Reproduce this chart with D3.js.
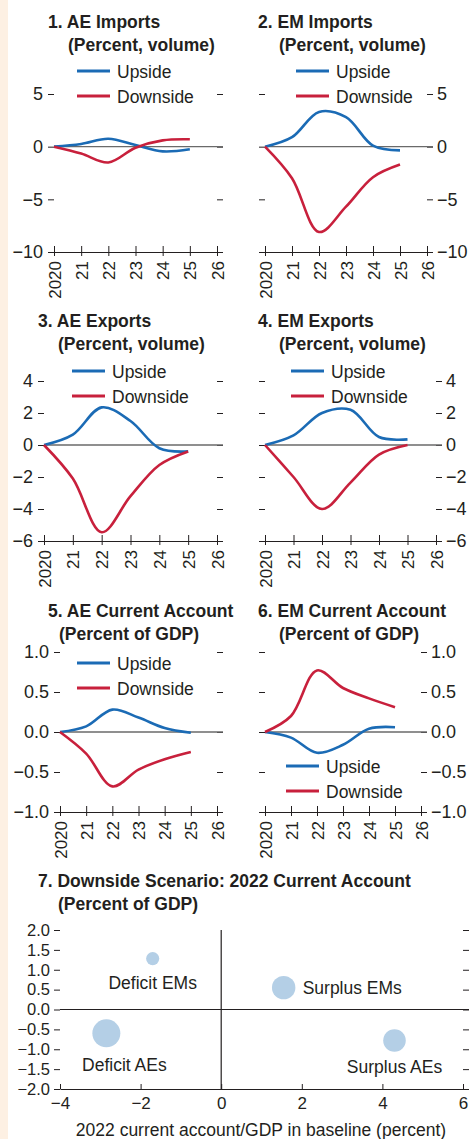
<!DOCTYPE html>
<html>
<head>
<meta charset="utf-8">
<script src="https://cdn.jsdelivr.net/npm/d3@7"></script>
<style>
body { margin: 0; background: #fff; }
svg text { font-family: "Liberation Sans", Arial, sans-serif; fill: #231f20; }
</style>
</head>
<body>
<svg id="chart" width="472" height="1139"></svg>
<script>
// values
const years = [2020, 2021, 2022, 2023, 2024, 2025]
const yearTicks = [2020, 2021, 2022, 2023, 2024, 2025, 2026]
const yearLabels = ["2020", "21", "22", "23", "24", "25", "26"]

const aeImportsUp = [0, 0.25, 0.75, 0.15, -0.45, -0.25]
const aeImportsDown = [0, -0.65, -1.5, -0.1, 0.6, 0.7]
const emImportsUp = [0, 0.9, 3.3, 2.8, 0.1, -0.35]
const emImportsDown = [0, -3.0, -8.1, -5.7, -2.9, -1.7]
const aeExportsUp = [0, 0.65, 2.35, 1.5, -0.2, -0.4]
const aeExportsDown = [0, -2.1, -5.45, -3.2, -1.25, -0.4]
const emExportsUp = [0, 0.6, 2.0, 2.2, 0.5, 0.35]
const emExportsDown = [0, -2.0, -4.0, -2.35, -0.6, 0]
const aeCaUp = [0, 0.07, 0.28, 0.18, 0.05, -0.01]
const aeCaDown = [0, -0.27, -0.68, -0.47, -0.34, -0.25]
const emCaUp = [0, -0.07, -0.26, -0.16, 0.04, 0.06]
const emCaDown = [0, 0.2, 0.77, 0.55, 0.42, 0.31]

const seriesNames = ["Upside", "Downside"]

const scatterGroups = ["Deficit EMs", "Deficit AEs", "Surplus EMs", "Surplus AEs"]
const baselineCa = [-1.7, -2.85, 1.55, 4.3]
const downsideChange = [1.28, -0.6, 0.55, -0.78]
const groupWeight = [0.22, 1.0, 0.7, 0.65]

const blue = "#1b6bb5"
const red = "#c8203c"
const ink = "#231f20"

let svg = d3.select("#chart")

svg.append("rect").attr("width", 472).attr("height", 1139).attr("fill", "#fff")
svg.append("rect").attr("width", 8).attr("height", 1139).attr("fill", "#fdf0e3")

const panels = [
	{ title: "1. AE Imports", sub: "(Percent, volume)", up: aeImportsUp, down: aeImportsDown,
		x0: 54, x1: 217, yDomain: [-10, 5], yRange: [252, 94], ticks: [5, 0, -5, -10], fmt: d3.format("d"),
		side: "left", tx: 48, ty: 28, sx: 68, legX: 77, legY: 71 },
	{ title: "2. EM Imports", sub: "(Percent, volume)", up: emImportsUp, down: emImportsDown,
		x0: 265, x1: 427, yDomain: [-10, 5], yRange: [252, 94], ticks: [5, 0, -5, -10], fmt: d3.format("d"),
		side: "right", tx: 258, ty: 28, sx: 279, legX: 296, legY: 71 },
	{ title: "3. AE Exports", sub: "(Percent, volume)", up: aeExportsUp, down: aeExportsDown,
		x0: 44, x1: 217, yDomain: [-6, 4], yRange: [541, 381], ticks: [4, 2, 0, -2, -4, -6], fmt: d3.format("d"),
		side: "left", tx: 38, ty: 327, sx: 58, legX: 72, legY: 371 },
	{ title: "4. EM Exports", sub: "(Percent, volume)", up: emExportsUp, down: emExportsDown,
		x0: 265, x1: 436, yDomain: [-6, 4], yRange: [541, 381], ticks: [4, 2, 0, -2, -4, -6], fmt: d3.format("d"),
		side: "right", tx: 258, ty: 327, sx: 279, legX: 291, legY: 371 },
	{ title: "5. AE Current Account", sub: "(Percent of GDP)", up: aeCaUp, down: aeCaDown,
		x0: 60, x1: 217, yDomain: [-1, 1], yRange: [812, 652], ticks: [1, 0.5, 0, -0.5, -1], fmt: d3.format(".1f"),
		side: "left", tx: 48, ty: 617, sx: 59, legX: 77, legY: 663 },
	{ title: "6. EM Current Account", sub: "(Percent of GDP)", up: emCaUp, down: emCaDown,
		x0: 265, x1: 421, yDomain: [-1, 1], yRange: [812, 652], ticks: [1, 0.5, 0, -0.5, -1], fmt: d3.format(".1f"),
		side: "right", tx: 258, ty: 617, sx: 279, legX: 286, legY: 766 }
]

const styleAxis = (g, size) => {
	g.attr("font-family", null).attr("font-size", null)
	g.selectAll("line").attr("stroke", ink)
	g.selectAll("path").attr("stroke", ink)
	g.selectAll("text").style("font-size", size + "px").attr("fill", ink)
}

panels.map(p => {

	let g = svg.append("g")

	let x = d3.scaleLinear().domain([2020, 2026]).range([p.x0, p.x1])
	let y = d3.scaleLinear().domain(p.yDomain).range(p.yRange)

	g.append("text").attr("x", p.tx).attr("y", p.ty)
	.style("font-weight", "bold").style("font-size", "17.5px").text(p.title)

	g.append("text").attr("x", p.sx).attr("y", p.ty + 23)
	.style("font-weight", "bold").style("font-size", "17.5px").text(p.sub)

	let leftAxis = d3.axisLeft(y).tickValues(p.ticks).tickSize(6).tickPadding(5)
	.tickFormat(p.side == "left" ? p.fmt : "")
	let rightAxis = d3.axisRight(y).tickValues(p.ticks).tickSize(6).tickPadding(4)
	.tickFormat(p.side == "right" ? p.fmt : "")

	g.append("g").attr("transform", "translate(" + p.x0 + ",0)").call(leftAxis)
	.call(a => a.select(".domain").remove()).call(a => styleAxis(a, 18))

	g.append("g").attr("transform", "translate(" + p.x1 + ",0)").call(rightAxis)
	.call(a => a.select(".domain").remove()).call(a => styleAxis(a, 18))

	// zero line
	g.append("line")
	.attr("x1", p.x0).attr("x2", p.x1 + 6)
	.attr("y1", y(0)).attr("y2", y(0))
	.attr("stroke", "#6a6a6a").attr("stroke-width", 1.3)

	let xaxis = g.append("g")
	.attr("transform", "translate(0," + y(p.yDomain[0]) + ")")
	.call(d3.axisBottom(x).tickValues(yearTicks).tickSize(4).tickSizeOuter(0)
		.tickFormat((d, i) => yearLabels[i]))
	.call(a => styleAxis(a, 17))

	xaxis.selectAll(".tick line").attr("y1", -6)
	xaxis.selectAll(".tick text")
	.attr("transform", "rotate(-90)")
	.attr("x", -9).attr("y", 0).attr("dy", "0.36em")
	.style("text-anchor", "end")

	let line = d3.line()
	.x((d, i) => x(years[i]))
	.y(d => y(d))
	.curve(d3.curveCatmullRom)

	;[[p.up, blue], [p.down, red]].map(s => {
		g.append("path")
		.attr("d", line(s[0]))
		.attr("fill", "none")
		.attr("stroke", s[1])
		.attr("stroke-width", 2.6)
	})

	seriesNames.map((name, i) => {
		let ly = p.legY + i * 25
		g.append("line")
		.attr("x1", p.legX).attr("x2", p.legX + 33)
		.attr("y1", ly).attr("y2", ly)
		.attr("stroke", i == 0 ? blue : red)
		.attr("stroke-width", 3)
		g.append("text")
		.attr("x", p.legX + 40).attr("y", ly + 6.5)
		.style("font-size", "17.5px")
		.text(name)
	})
})

// panel 7: scatter
let sg = svg.append("g")

sg.append("text").attr("x", 38).attr("y", 887)
.style("font-weight", "bold").style("font-size", "17.5px")
.text("7. Downside Scenario: 2022 Current Account")

sg.append("text").attr("x", 58).attr("y", 910)
.style("font-weight", "bold").style("font-size", "17.5px")
.text("(Percent of GDP)")

let sx = d3.scaleLinear().domain([-4, 6]).range([60, 463])
let sy = d3.scaleLinear().domain([-2, 2]).range([1089, 930])
let radius = d3.scaleSqrt().domain([0, 1]).range([0, 14])

const yTicks7 = [2, 1.5, 1, 0.5, 0, -0.5, -1, -1.5, -2]

sg.append("g").attr("transform", "translate(60,0)")
.call(d3.axisLeft(sy).tickValues(yTicks7).tickSize(6).tickPadding(4).tickFormat(d3.format(".1f")))
.call(a => a.select(".domain").remove()).call(a => styleAxis(a, 16.5))

sg.append("g").attr("transform", "translate(463,0)")
.call(d3.axisRight(sy).tickValues(yTicks7).tickSize(6).tickFormat(""))
.call(a => a.select(".domain").remove()).call(a => styleAxis(a, 16.5))

sg.append("g").attr("transform", "translate(0,1089)")
.call(d3.axisBottom(sx).tickValues([-4, -2, 0, 2, 4, 6]).tickSize(-5).tickSizeOuter(0).tickPadding(8)
	.tickFormat(d3.format("d")))
.call(a => styleAxis(a, 17))

sg.append("line")
.attr("x1", sx(0)).attr("x2", sx(0))
.attr("y1", sy(2)).attr("y2", sy(-2))
.attr("stroke", ink).attr("stroke-width", 1.2)

sg.append("line")
.attr("x1", sx(-4)).attr("x2", sx(6) + 6)
.attr("y1", sy(0)).attr("y2", sy(0))
.attr("stroke", ink).attr("stroke-width", 1.2)

// where each bubble's label sits relative to the bubble
const labelPlace = [
	{ dx: 0, dy: 30, anchor: "middle" },
	{ dx: 18, dy: 38, anchor: "middle" },
	{ dx: 19, dy: 6, anchor: "start" },
	{ dx: 0, dy: 32, anchor: "middle" }
]

scatterGroups.map((name, i) => {
	let cx = sx(baselineCa[i])
	let cy = sy(downsideChange[i])
	sg.append("circle")
	.attr("cx", cx).attr("cy", cy)
	.attr("r", radius(groupWeight[i]))
	.attr("fill", "#b4cfe6")
	sg.append("text")
	.attr("x", cx + labelPlace[i].dx).attr("y", cy + labelPlace[i].dy)
	.style("text-anchor", labelPlace[i].anchor)
	.style("font-size", "17.5px")
	.text(name)
})

sg.append("text")
.attr("x", 261).attr("y", 1136)
.style("text-anchor", "middle")
.style("font-size", "17.5px")
.text("2022 current account/GDP in baseline (percent)")
</script>
</body>
</html>
